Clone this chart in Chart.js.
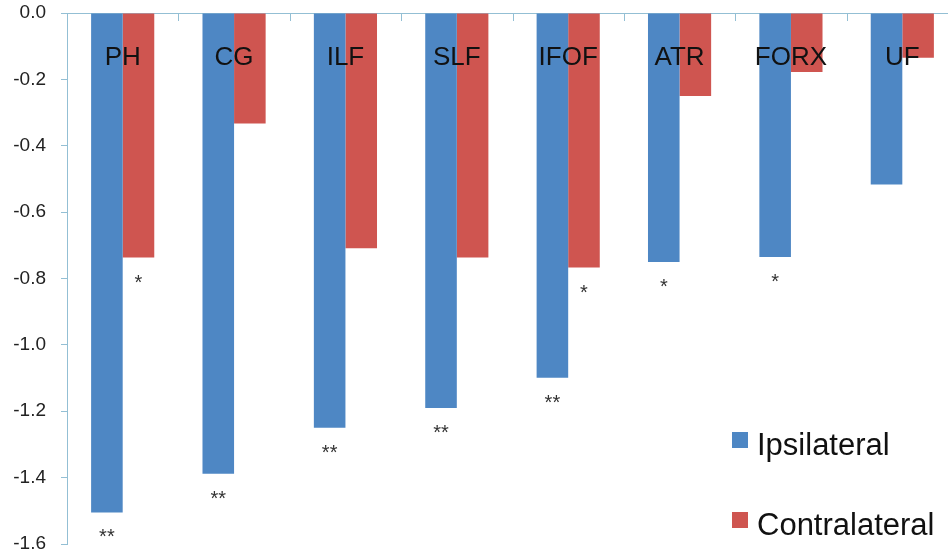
<!DOCTYPE html>
<html>
<head>
<meta charset="utf-8">
<script src="https://cdn.jsdelivr.net/npm/chart.js@4"></script>
<style>
  html, body { margin: 0; padding: 0; background: #fff; overflow: hidden; }
  canvas { display: block; }
</style>
</head>
<body>
<canvas id="chart" width="958" height="557"></canvas>
<script>
const categories = ["PH", "CG", "ILF", "SLF", "IFOF", "ATR", "FORX", "UF"];
const ipsilateral = [-1.505, -1.388, -1.25, -1.19, -1.099, -0.75, -0.735, -0.517];
const contralateral = [-0.737, -0.333, -0.709, -0.737, -0.767, -0.25, -0.178, -0.135];
// significance marks under the bars
const ipsiMarks = ["**", "**", "**", "**", "**", "*", "*", ""];
const contraMarks = ["*", "", "", "", "*", "", "", ""];

const blue = "rgb(78,135,196)";
const red = "rgb(207,85,80)";
const axisColor = "#93bfd4";
const font = "'Liberation Sans', Arial, sans-serif";

// category names, boundary ticks, asterisks and legend
const overlay = {
  id: "overlay",
  afterDatasetsDraw(chart) {
    const ctx = chart.ctx;
    const area = chart.chartArea;
    const x = chart.scales.x;
    const half = (x.getPixelForValue(1) - x.getPixelForValue(0)) / 2;
    ctx.save();

    // tick marks on the top axis, between groups
    ctx.strokeStyle = axisColor;
    ctx.lineWidth = 1;
    for (let i = 1; i < categories.length; i++) {
      const bx = Math.round(x.getPixelForValue(i) - half) + 0.5;
      ctx.beginPath();
      ctx.moveTo(bx, area.top);
      ctx.lineTo(bx, area.top + 8);
      ctx.stroke();
    }

    // names
    ctx.fillStyle = "#111";
    ctx.font = "26px " + font;
    ctx.textAlign = "center";
    ctx.textBaseline = "middle";
    categories.forEach((c, i) => {
      ctx.fillText(c, x.getPixelForValue(i), 58);
    });

    // asterisks
    ctx.fillStyle = "#333";
    ctx.font = "20px " + font;
    ctx.textBaseline = "alphabetic";
    [ipsiMarks, contraMarks].forEach((marks, d) => {
      const meta = chart.getDatasetMeta(d);
      marks.forEach((m, i) => {
        if (!m) return;
        const bar = meta.data[i];
        ctx.fillText(m, bar.x, bar.y + 31);
      });
    });

    // legend
    ctx.textAlign = "left";
    ctx.font = "31px " + font;
    const rows = [432, 512];
    chart.data.datasets.forEach((ds, d) => {
      ctx.fillStyle = ds.backgroundColor;
      ctx.fillRect(732, rows[d], 16, 16);
      ctx.fillStyle = "#111";
      ctx.fillText(ds.label, 757, rows[d] + 23);
    });
    ctx.restore();
  }
};

new Chart(document.getElementById("chart"), {
  type: "bar",
  data: {
    labels: categories,
    datasets: [
      { label: "Ipsilateral", data: ipsilateral, backgroundColor: blue },
      { label: "Contralateral", data: contralateral, backgroundColor: red }
    ]
  },
  options: {
    responsive: false,
    animation: false,
    layout: { padding: { top: 13, bottom: 13, left: 0, right: 0 } },
    datasets: { bar: { barPercentage: 1, categoryPercentage: 0.567 } },
    plugins: { legend: { display: false }, tooltip: { enabled: false } },
    scales: {
      x: { display: false },
      y: {
        min: -1.6,
        max: 0,
        ticks: {
          stepSize: 0.2,
          padding: 15,
          color: "#222",
          font: { size: 19, family: font },
          callback: v => Number(v).toFixed(1)
        },
        grid: {
          color: ctx => (ctx.tick && Math.abs(ctx.tick.value) < 1e-9) ? axisColor : "transparent",
          tickColor: axisColor,
          tickLength: 6
        },
        border: { color: axisColor },
        afterFit(scale) {
          scale.width = 67;
          scale.paddingTop = 0;
          scale.paddingBottom = 0;
        }
      }
    }
  },
  plugins: [overlay]
});
</script>
</body>
</html>
